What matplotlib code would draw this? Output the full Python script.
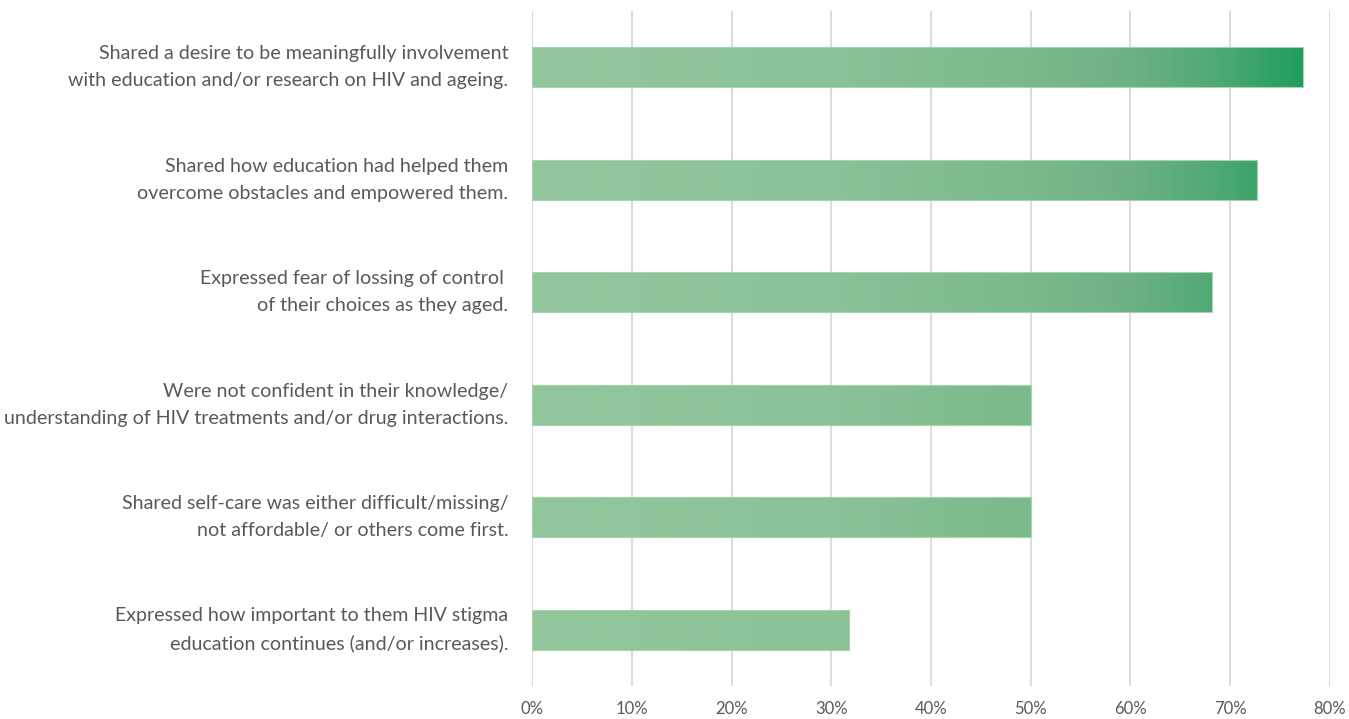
import numpy as np
import matplotlib
matplotlib.use("Agg")
import matplotlib.pyplot as plt
from matplotlib.colors import LinearSegmentedColormap

# ---------------- data ----------------
labels = [
    "Shared a desire to be meaningfully involvement\nwith education and/or research on HIV and ageing.",
    "Shared how education had helped them\novercome obstacles and empowered them.",
    "Expressed fear of lossing of control \nof their choices as they aged.",
    "Were not confident in their knowledge/\nunderstanding of HIV treatments and/or drug interactions.",
    "Shared self-care was either difficult/missing/\nnot affordable/ or others come first.",
    "Expressed how important to them HIV stigma\neducation continues (and/or increases).",
]
values = [77.3, 72.7, 68.2, 50.0, 50.0, 31.8]
ticks = [0, 10, 20, 30, 40, 50, 60, 70, 80]
tick_labels = [f"{t}%" for t in ticks]

# gradient across the plot width (0..80%)
grad = LinearSegmentedColormap.from_list("g", [
    (0.00, "#93c69c"),
    (0.375, "#8bc297"),
    (0.625, "#7ab98a"),
    (0.75, "#6db283"),
    (0.875, "#4aa870"),
    (1.00, "#0f9a52"),
])

fig = plt.figure(figsize=(13.49, 7.19), dpi=100)
ax = fig.add_axes([0.3944, 0.0459, 0.5915, 0.9391])

TXT = "#595959"
xmax = 80
n = len(values)
ypos = np.arange(n)[::-1]
h = 0.355

grad_img = np.linspace(0, 1, 800).reshape(1, -1)
for y, v in zip(ypos, values):
    bars = ax.barh(y, v, height=h, color="none", edgecolor="#a6d4ae", lw=0.8, zorder=3)
    im = ax.imshow(grad_img, cmap=grad, aspect="auto",
                   extent=(0, xmax, y - h / 2, y + h / 2), zorder=2)
    im.set_clip_path(bars[0])

ax.set_xlim(0, xmax)
ax.set_ylim(-0.5, n - 0.5)
ax.set_xticks(ticks)
ax.set_xticklabels(tick_labels)
ax.set_yticks(ypos)
ax.set_yticklabels(labels, linespacing=1.72, va="center")
ax.grid(axis="x", color="#d9d9d9", lw=1.3, zorder=0)
ax.set_axisbelow(True)
for s in ax.spines.values():
    s.set_visible(False)
ax.tick_params(axis="x", length=0, pad=11, labelsize=12, labelcolor=TXT)
ax.tick_params(axis="y", length=0, pad=17, labelsize=14.1, labelcolor=TXT)
for t in ax.get_xticklabels() + ax.get_yticklabels():
    t.set_family(["Lato", "DejaVu Sans"])

fig.savefig("out.png", dpi=100)
